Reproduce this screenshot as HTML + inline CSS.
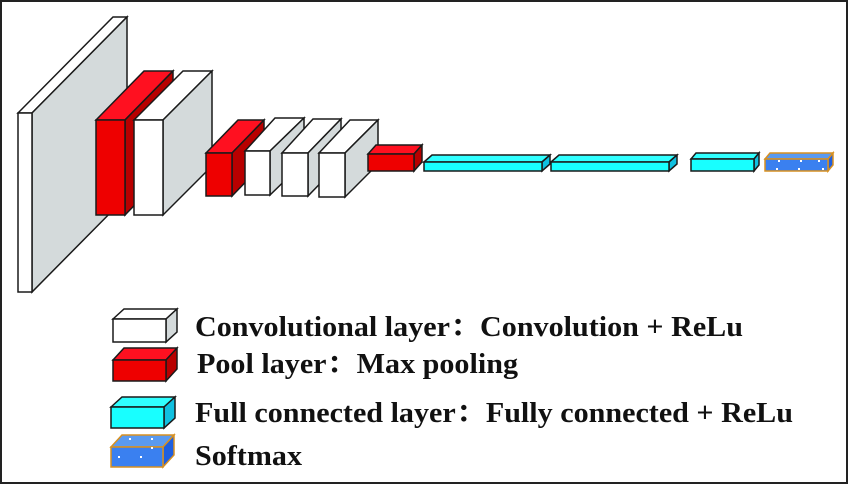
<!DOCTYPE html>
<html><head><meta charset="utf-8"><style>html,body{margin:0;padding:0;background:#fff}svg{display:block}</style></head>
<body>
<svg width="850" height="485" viewBox="0 0 850 485" xmlns="http://www.w3.org/2000/svg">
<rect x="1" y="1" width="846" height="482" fill="#fff" stroke="#222" stroke-width="2"/>
<g stroke="#1a1a1a" stroke-width="1.5" stroke-linejoin="miter">
<!-- big slab -->
<polygon points="18,113 113,17 127,17 32,113" fill="#fff"/>
<polygon points="32,113 127,17 127,196 32,292" fill="#d4dadb"/>
<rect x="18" y="113" width="14" height="179" fill="#fff"/>
<!-- red1 -->
<polygon points="96,120 144,71 173,71 125,120" fill="#ff1020"/>
<polygon points="125,120 173,71 173,166 125,215" fill="#b80000"/>
<rect x="96" y="120" width="29" height="95" fill="#ee0000"/>
<!-- white2 -->
<polygon points="134,120 183,71 212,71 163,120" fill="#fff"/>
<polygon points="163,120 212,71 212,166 163,215" fill="#d4dadb"/>
<rect x="134" y="120" width="29" height="95" fill="#fff"/>
<!-- red3 -->
<polygon points="206,153 238,120 264,120 232,153" fill="#ff1020"/>
<polygon points="232,153 264,120 264,163 232,196" fill="#b80000"/>
<rect x="206" y="153" width="26" height="43" fill="#ee0000"/>
<!-- w4 -->
<polygon points="245,151 275,118 304,118 270,151" fill="#fff"/>
<polygon points="270,151 304,118 304,162 270,195" fill="#d4dadb"/>
<rect x="245" y="151" width="25" height="44" fill="#fff"/>
<!-- w5 -->
<polygon points="282,153 313,119 341,119 308,153" fill="#fff"/>
<polygon points="308,153 341,119 341,162 308,196" fill="#d4dadb"/>
<rect x="282" y="153" width="26" height="43" fill="#fff"/>
<!-- w6 -->
<polygon points="319,153 350,120 378,120 345,153" fill="#fff"/>
<polygon points="345,153 378,120 378,164 345,197" fill="#d4dadb"/>
<rect x="319" y="153" width="26" height="44" fill="#fff"/>
<!-- red7 -->
<polygon points="368,154 376,145 422,145 414,154" fill="#ff1020"/>
<polygon points="414,154 422,145 422,162 414,171" fill="#b80000"/>
<rect x="368" y="154" width="46" height="17" fill="#ee0000"/>
<!-- cyan1 -->
<polygon points="424,162 432,155 550,155 542,162" fill="#30ffff"/>
<polygon points="542,162 550,155 550,164 542,171" fill="#10c0e0"/>
<rect x="424" y="162" width="118" height="9" fill="#18ffff"/>
<!-- cyan2 -->
<polygon points="551,162 559,155 677,155 669,162" fill="#30ffff"/>
<polygon points="669,162 677,155 677,164 669,171" fill="#10c0e0"/>
<rect x="551" y="162" width="118" height="9" fill="#18ffff"/>
<!-- cyan3 -->
<polygon points="691,159 696,153 759,153 754,159" fill="#30ffff"/>
<polygon points="754,159 759,153 759,165 754,171" fill="#10c0e0"/>
<rect x="691" y="159" width="63" height="12" fill="#18ffff"/>
</g>
<g stroke="#d89020" stroke-width="1.5">
<polygon points="765,159 770,153 833,153 828,159" fill="#5a9af0"/>
<polygon points="828,159 833,153 833,165 828,171" fill="#1f5fe0"/>
<rect x="765" y="159" width="63" height="12" fill="#3a80f0"/>
</g>
<g fill="#fff"><rect x="778" y="160" width="2" height="2"/><rect x="800" y="160" width="2" height="2"/><rect x="818" y="160" width="2" height="2"/><rect x="776" y="168" width="2" height="2"/><rect x="798" y="168" width="2" height="2"/><rect x="822" y="168" width="2" height="2"/></g>
<!-- legend -->
<g stroke="#1a1a1a" stroke-width="1.5">
<polygon points="113,319 124,309 177,309 166,319" fill="#fff"/>
<polygon points="166,319 177,309 177,332 166,342" fill="#d4dadb"/>
<rect x="113" y="319" width="53" height="23" fill="#fff"/>
<polygon points="113,360 124,348 177,348 166,360" fill="#ff1020"/>
<polygon points="166,360 177,348 177,369 166,381" fill="#b80000"/>
<rect x="113" y="360" width="53" height="21" fill="#ee0000"/>
<polygon points="111,407 122,397 175,397 164,407" fill="#30ffff"/>
<polygon points="164,407 175,397 175,418 164,428" fill="#10c0e0"/>
<rect x="111" y="407" width="53" height="21" fill="#18ffff"/>
</g>
<g stroke="#d89020" stroke-width="1.5">
<polygon points="111,447 122,435 174,435 163,447" fill="#5a9af0"/>
<polygon points="163,447 174,435 174,455 163,467" fill="#1f5fe0"/>
<rect x="111" y="447" width="52" height="20" fill="#3a80f0"/>
</g>
<g fill="#fff"><rect x="129" y="438" width="2" height="2"/><rect x="151" y="438" width="2" height="2"/><rect x="118" y="456" width="2" height="2"/><rect x="140" y="456" width="2" height="2"/><rect x="151" y="447" width="2" height="2"/></g>
<g font-family="'Liberation Serif','Noto Serif CJK SC',serif" font-weight="bold" font-size="29" fill="#111">
<text x="195" y="336" textLength="548" lengthAdjust="spacingAndGlyphs">Convolutional layer：Convolution + ReLu</text>
<text x="197" y="373" textLength="321" lengthAdjust="spacingAndGlyphs">Pool layer：Max pooling</text>
<text x="195" y="422" textLength="598" lengthAdjust="spacingAndGlyphs">Full connected layer：Fully connected + ReLu</text>
<text x="195" y="465" textLength="107" lengthAdjust="spacingAndGlyphs">Softmax</text>
</g>
</svg>
</body></html>
